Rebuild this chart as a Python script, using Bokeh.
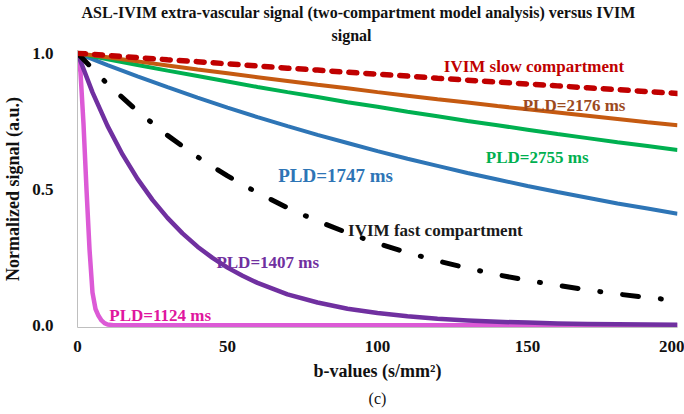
from bokeh.plotting import figure
from bokeh.models import Range1d, Title, FixedTicker, NumeralTickFormatter
from bokeh.core.properties import value
from bokeh.embed import file_html
from bokeh.resources import INLINE

# ---- data ----
b_values = [0, 10, 20, 30, 40, 50, 60, 70, 80, 90, 100,
            110, 120, 130, 140, 150, 160, 170, 180, 190, 200]
ivim_slow = [1.000, 0.992, 0.984, 0.976, 0.969, 0.961, 0.953, 0.945, 0.938, 0.930, 0.923,
             0.916, 0.908, 0.901, 0.894, 0.887, 0.880, 0.873, 0.866, 0.859, 0.852]
pld_2176 = [1.000, 0.985, 0.970, 0.955, 0.940, 0.926, 0.912, 0.898, 0.884, 0.871, 0.857,
            0.844, 0.831, 0.819, 0.806, 0.794, 0.782, 0.770, 0.758, 0.746, 0.735]
pld_2755 = [1.000, 0.978, 0.957, 0.936, 0.916, 0.896, 0.876, 0.857, 0.839, 0.820, 0.803,
            0.785, 0.768, 0.751, 0.735, 0.719, 0.703, 0.688, 0.673, 0.659, 0.644]
pld_1747 = [1.000, 0.956, 0.915, 0.875, 0.837, 0.800, 0.765, 0.732, 0.700, 0.670, 0.640,
            0.612, 0.586, 0.560, 0.536, 0.512, 0.490, 0.469, 0.448, 0.429, 0.410]
ivim_fast = [1.000, 0.887, 0.787, 0.698, 0.619, 0.549, 0.487, 0.432, 0.383, 0.340, 0.301,
             0.267, 0.237, 0.210, 0.186, 0.165, 0.147, 0.130, 0.115, 0.102, 0.091]
b_values_1407 = [0, 5, 10, 15, 20, 25, 30, 35, 40, 45, 50, 55, 60,
                 70, 80, 90, 100, 110, 120, 130, 140, 150, 160, 170, 180, 190, 200]
pld_1407 = [1.000, 0.856, 0.733, 0.628, 0.538, 0.461, 0.395, 0.338, 0.289, 0.248, 0.212, 0.182, 0.156,
            0.114, 0.084, 0.061, 0.045, 0.033, 0.024, 0.018, 0.013, 0.010, 0.007, 0.005, 0.004, 0.003, 0.002]
b_values_1124 = [0, 1, 2, 3, 4, 5, 6, 7, 8, 9, 10, 12, 200]
pld_1124 = [1.000, 0.930, 0.740, 0.500, 0.280, 0.120, 0.060, 0.035, 0.018, 0.008, 0.003, 0.000, 0.000]

x_ticks = [0, 50, 100, 150, 200]
y_ticks = [0.0, 0.5, 1.0]

title_line1 = "ASL-IVIM extra-vascular signal (two-compartment model analysis) versus IVIM"
title_line2 = "signal"
x_label = "b-values (s/mm\u00b2)"
y_label = "Normalized signal (a.u.)"
panel_label = "(c)"

label_texts = ["IVIM  slow  compartment", "PLD=2176 ms", "PLD=2755 ms", "PLD=1747 ms",
               "IVIM  fast  compartment", "PLD=1407 ms", "PLD=1124 ms"]

# ---- annotation placement / styles ----
label_x = [122.1, 148.4, 136.1, 66.9, 90.2, 46.3, 10.6]
label_y = [0.952, 0.809, 0.618, 0.551, 0.349, 0.232, 0.037]
label_colors = ["#C00000", "#9C4A1E", "#00B050", "#2E75B6", "#1A1A1A", "#7030A0", "#E0169E"]
label_sizes = ["17px", "17px", "17px", "19px", "17px", "17px", "17px"]

FONT = "Liberation Serif"

p = figure(width=684, height=414, output_backend="svg", toolbar_location=None,
           x_range=Range1d(0, 200), y_range=Range1d(-0.008, 1.01),
           title=None, min_border_left=76, min_border_right=7,
           min_border_top=50, min_border_bottom=87)
p.outline_line_color = None
p.xgrid.visible = False
p.ygrid.visible = False
p.background_fill_color = "white"
p.border_fill_color = "white"

# titles (added bottom line first so it sits closer to the frame)
p.add_layout(Title(text=title_line2, align="left", offset=254, standoff=13,
                   text_font=FONT, text_font_size="16px", text_font_style="bold",
                   text_color="#111111"), "above")
p.add_layout(Title(text=title_line1, align="left", offset=4, standoff=-5,
                   text_font=FONT, text_font_size="16px", text_font_style="bold",
                   text_color="#111111"), "above")

for ax in (p.xaxis[0], p.yaxis[0]):
    ax.axis_line_color = "#BFBFBF"
    ax.axis_line_width = 1
    ax.major_tick_line_color = None
    ax.minor_tick_line_color = None
    ax.major_label_text_font = FONT
    ax.major_label_text_font_style = "bold"
    ax.major_label_text_font_size = "17px"
    ax.major_label_text_color = "#111111"
    ax.axis_label_text_font = FONT
    ax.axis_label_text_font_style = "bold"
    ax.axis_label_text_font_size = "18px"
    ax.axis_label_text_color = "#111111"

p.xaxis.ticker = FixedTicker(ticks=x_ticks)
p.yaxis.ticker = FixedTicker(ticks=y_ticks)
p.yaxis.formatter = NumeralTickFormatter(format="0.0")
p.xaxis.major_label_standoff = 7
p.yaxis.major_label_standoff = 18
p.xaxis.axis_label = x_label
p.yaxis.axis_label = y_label
p.xaxis.axis_label_standoff = 6
p.yaxis.axis_label_standoff = 6

p.add_layout(Title(text=panel_label, align="center", standoff=8,
                   text_font=FONT, text_font_size="16px", text_font_style="normal",
                   text_color="#111111"), "below")

# curves
p.line(b_values_1124, pld_1124, line_color="#DC5AD6", line_width=4.5, line_join="round")
p.line(b_values_1407, pld_1407, line_color="#7030A0", line_width=4.5, line_join="round")
p.line(b_values, pld_1747, line_color="#2E75B6", line_width=4)
p.line(b_values, pld_2755, line_color="#00B050", line_width=4)
p.line(b_values, pld_2176, line_color="#C55A11", line_width=4)
p.line(b_values, ivim_fast, line_color="black", line_width=5, line_cap="round",
       line_dash="16 22 1 22")
p.line(b_values, ivim_slow, line_color="#C00000", line_width=5.5, line_cap="round",
       line_dash="8 9")

for t, x, y, c, s in zip(label_texts, label_x, label_y, label_colors, label_sizes):
    p.text(x=[x], y=[y], text=[t], text_color=c, text_font=value(FONT),
           text_font_style="bold", text_font_size=s,
           text_align="left", text_baseline="middle")

open("out.html", "w").write(file_html(p, INLINE))
